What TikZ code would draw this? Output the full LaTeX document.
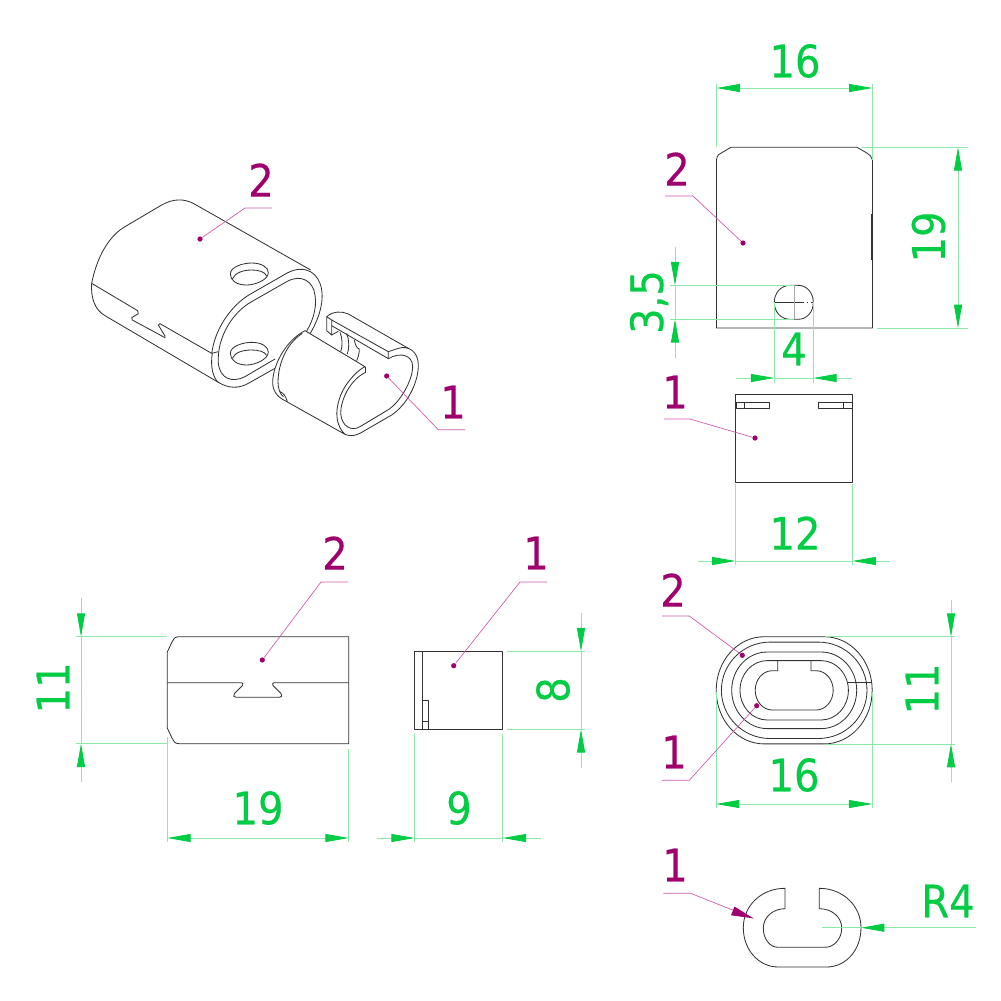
\documentclass[tikz,border=0pt]{standalone}
\usepackage{fontspec}
\setmainfont{DejaVu Sans Condensed}
\newfontfamily\markfont[FakeBold=0.35]{DejaVu Sans Condensed}
\usetikzlibrary{arrows.meta}
\definecolor{dimgreen}{RGB}{0,204,68}
\definecolor{extgreen}{RGB}{140,234,168}
\definecolor{labelmag}{RGB}{160,0,110}
\definecolor{leadmag}{RGB}{205,90,170}
\definecolor{partline}{RGB}{50,50,50}
\tikzset{
  part/.style={draw=partline,line width=0.62pt,line join=round},
  extline/.style={draw=extgreen,line width=0.6pt},
  dimline/.style={draw=extgreen,line width=0.6pt,
     >={Triangle[length=17.5pt,width=6pt,color=dimgreen,fill=dimgreen]}},
  dimtext/.style={text=dimgreen,font=\markfont\fontsize{33.5}{33.5}\selectfont,inner sep=0pt},
  labeltext/.style={text=labelmag,font=\markfont\fontsize{33.5}{33.5}\selectfont,inner sep=0pt},
  leader/.style={draw=leadmag,line width=0.5pt},
  dotmark/.style={circle,fill=labelmag,inner sep=0pt,minimum size=3.9pt},
}
\newcommand\stadium[5]{%
  \pgfmathsetmacro\sxl{#1-#3}\pgfmathsetmacro\sxr{#1+#3}%
  \pgfmathsetmacro\syt{#2-#5}\pgfmathsetmacro\syb{#2+#5}%
  \pgfmathsetmacro\kx{.5523*#4}\pgfmathsetmacro\ky{.5523*#5}%
  \pgfmathsetmacro\xrr{#1+#3+#4}\pgfmathsetmacro\xll{#1-#3-#4}%
  \draw[part] (\sxl,\syt) -- (\sxr,\syt)
    .. controls (\sxr+\kx,\syt) and (\xrr,#2-\ky) .. (\xrr,#2)
    .. controls (\xrr,#2+\ky) and (\sxr+\kx,\syb) .. (\sxr,\syb)
    -- (\sxl,\syb)
    .. controls (\sxl-\kx,\syb) and (\xll,#2+\ky) .. (\xll,#2)
    .. controls (\xll,#2-\ky) and (\sxl-\kx,\syt) .. cycle;}
\begin{document}
\begin{tikzpicture}[x=0.75pt,y=-0.75pt]
\useasboundingbox[fill=white] (0,0) rectangle (1001,1001);

% ---------- isometric view (coordinates of a 3x crop) ----------
\begin{scope}[x=0.25pt,y=-0.25pt,shift={(52.5pt,-127.5pt)}]
 % body 2
 \draw[part] (65,340) .. controls (85,240) and (130,190) .. (165,170)
   -- (275,105) .. controls (310,85) and (345,85) .. (375,103) -- (722,300);
 \draw[part] (65,340) .. controls (62,385) and (75,420) .. (105,437)
   -- (445,637) .. controls (475,655) and (505,657) .. (535,640) -- (620,592);
 \draw[part] (65,340) -- (203,422) -- (205,431) -- (185,443) -- (187,450)
   -- (285,503) -- (285,498) -- (265,465) -- (270,461) -- (425,550) -- (445,545);
 % end face
 \draw[part] (425,552) .. controls (435,470) and (490,400) .. (545,370)
   -- (650,310) .. controls (695,285) and (735,300) .. (750,340)
   .. controls (768,390) and (745,450) .. (718,495);
 \draw[part] (427,550) .. controls (420,590) and (430,625) .. (445,637);
 \draw[part] (615,567) -- (525,620) .. controls (485,640) and (450,625) .. (445,580)
   .. controls (440,500) and (490,425) .. (545,395)
   -- (650,335) .. controls (695,310) and (730,335) .. (735,375)
   .. controls (742,420) and (725,460) .. (703,495);
 % holes
 \draw[part] (481,312) .. controls (481,290) and (520,279) .. (545,279)
   .. controls (575,279) and (595,292) .. (595,308)
   .. controls (595,330) and (555,345) .. (530,345)
   .. controls (500,345) and (481,332) .. cycle;
 \draw[part] (487,327) .. controls (495,308) and (520,300) .. (545,300)
   .. controls (565,300) and (585,305) .. (590,318);
 \draw[part] (481,550) .. controls (481,528) and (520,517) .. (545,517)
   .. controls (575,517) and (595,530) .. (595,546)
   .. controls (595,568) and (555,585) .. (530,585)
   .. controls (500,585) and (481,570) .. cycle;
 \draw[part] (487,565) .. controls (495,546) and (520,540) .. (545,540)
   .. controls (565,540) and (585,545) .. (590,556);
 % tab of part 1
 \fill[white] (770,440) -- (1020,530) -- (955,580) -- (770,490) -- cycle;
 \draw[part] (770,440) .. controls (790,423) and (815,423) .. (835,432) -- (1015,535);
 \draw[part] (770,440) -- (770,482) -- (785,495) -- (785,450) -- cycle;
 \draw[part] (785,450) -- (955,545) -- (955,566) -- (785,467);
 \draw[part] (785,495) -- (805,484);
 \draw[part] (810,487) .. controls (818,505) and (818,530) .. (812,545);
 \draw[part] (830,490) .. controls (838,510) and (838,535) .. (832,552);
 \draw[part] (853,510) .. controls (856,525) and (860,535) .. (868,537)
   .. controls (868,550) and (865,560) .. (860,572);
 % part 1 sleeve
 \fill[white] (705,482) -- (885,590) -- (885,608)
   .. controls (840,630) and (812,690) .. (805,730) -- (825,793)
   -- (645,690) .. controls (600,650) and (605,580) .. (650,520) -- cycle;
 \draw[part,fill=white] (705,482) .. controls (650,510) and (610,580) .. (608,635)
   .. controls (607,660) and (620,680) .. (645,692) -- (825,793)
   .. controls (790,760) and (795,700) .. (825,650)
   .. controls (845,620) and (865,600) .. (885,590) -- cycle;
 \draw[part] (697,490) .. controls (650,520) and (625,580) .. (624,635)
   .. controls (624,655) and (630,672) .. (640,680);
 \draw[part] (630,665) .. controls (640,668) and (648,680) .. (652,695);
 \draw[part] (885,590) -- (885,608);
 % part 1 front ring
 \draw[part] (825,793) .. controls (840,800) and (855,797) .. (870,790)
   -- (965,735) .. controls (1010,705) and (1045,640) .. (1045,585)
   .. controls (1045,545) and (1015,525) .. (985,535) -- (955,545);
 \draw[part] (885,608) .. controls (840,630) and (812,690) .. (812,730)
   .. controls (815,770) and (845,785) .. (870,770)
   -- (950,722) .. controls (990,700) and (1028,630) .. (1028,590)
   .. controls (1028,555) and (990,545) .. (955,566);
\end{scope}
% iso labels
\node[labeltext] (isotwo) at (261,180) {2};
\coordinate (isotwoe) at (272,208);
\coordinate (isotwok) at (245,208);
\node[dotmark] (isotwod) at (200,239) {};
\draw[leader] (isotwoe) -- (isotwok) -- (isotwod);
\node[labeltext] (isoone) at (453,402) {1};
\coordinate (isoonee) at (465,429.7);
\coordinate (isoonek) at (438.3,429.7);
\node[dotmark] (isooned) at (386.7,376) {};
\draw[leader] (isoonee) -- (isoonek) -- (isooned);

% ---------- top right view, part 2 ----------
\draw[part] (716.5,328) -- (716.5,160) .. controls (717,155) and (719,154) .. (722,152.5)
  -- (731,147.3) -- (857,147.3) -- (866,152.5) .. controls (870,155) and (872,157) .. (872.5,160)
  -- (872.5,328) -- cycle;
\draw[part] (871.5,214) -- (871.5,260);
\draw[part] (790,285.3) -- (798,285.3) .. controls (807,285.3) and (813.3,293) .. (813.3,302.3)
  .. controls (813.3,312) and (807,319.3) .. (798,319.3) -- (790,319.3)
  .. controls (781,319.3) and (774.3,312) .. (774.3,302.3)
  .. controls (774.3,293) and (781,285.3) .. cycle;
\draw[part] (774.3,302.3) -- (800,302.3);
\draw[part,dash pattern=on 3pt off 2pt on 1pt off 2pt] (800,302.3) -- (813.3,302.3);
\draw[gray!70,line width=0.5pt] (794.5,285.3) -- (794.5,319.3);
% dims 16 top
\draw[extline] (716.5,147) -- (716.5,84);
\draw[extline] (872.5,160) -- (872.5,84);
\draw[dimline,<->] (716.5,88) -- (872.5,88);
\node[dimtext] (dsixa) at (795,61) {16};
% dim 19 right
\draw[extline] (862,147.3) -- (968,147.3);
\draw[extline] (877,328) -- (968,328);
\draw[dimline,<->] (958,147.3) -- (958,328);
\node[dimtext,rotate=90] (dnine) at (928.5,237) {19};
% dim 3,5
\draw[extline] (670,285.3) -- (794,285.3);
\draw[extline] (670,319.3) -- (794,319.3);
\draw[dimline,->] (675,247) -- (675,285.3);
\draw[dimline,->] (675,358) -- (675,319.3);
\draw[extline] (675,285.3) -- (675,319.3);
\node[dimtext,rotate=90,anchor=base] (dthree) at (663,302) {3,5};
% dim 4
\draw[extline] (774.3,302.3) -- (774.3,383);
\draw[extline] (813.3,302.3) -- (813.3,383);
\draw[dimline,->] (736,378) -- (774.3,378);
\draw[dimline,->] (852,378) -- (813.3,378);
\draw[extline] (774.3,378) -- (813.3,378);
\node[dimtext] (dfour) at (794,349) {4};
% label 2
\node[labeltext] (topwo) at (677,169) {2};
\coordinate (topwoe) at (665,196);
\coordinate (topwok) at (693,196);
\node[dotmark] (topwod) at (743,243) {};
\draw[leader] (topwoe) -- (topwok) -- (topwod);

% ---------- view of part 1 ----------
\draw[part] (735.5,394.7) rectangle (852.5,482.7);
\draw[part] (736,402.3) rectangle (769.5,408.3);
\draw[part] (744.7,402.3) -- (744.7,408.3);
\draw[part] (818.7,402.3) rectangle (852,408.3);
\draw[part] (843.3,402.3) -- (843.3,408.3);
\draw[extline] (735.5,484) -- (735.5,565);
\draw[extline] (852.5,484) -- (852.5,565);
\draw[dimline,->] (698,561) -- (735.5,561);
\draw[dimline,->] (890,561) -- (852.5,561);
\draw[extline] (735.5,561) -- (852.5,561);
\node[dimtext] (dtwelve) at (795,533) {12};
\node[labeltext] (vone) at (675,392) {1};
\coordinate (vonee) at (664,419);
\coordinate (vonek) at (690,419);
\node[dotmark] (voned) at (755,438) {};
\draw[leader] (vonee) -- (vonek) -- (voned);

% ---------- bottom left view ----------
\draw[part] (179,636.7) -- (348.7,636.7) -- (348.7,743.7) -- (179,743.7)
  .. controls (175,743.7) and (173,741) .. (172,738) -- (167.3,728)
  -- (167.3,652) -- (172,642) .. controls (173,639) and (175,636.7) .. cycle;
\draw[part] (167.3,682.7) -- (241.5,682.7) .. controls (243,682.7) and (243.5,684.5) .. (242.5,685.5)
  -- (234.5,693.5) .. controls (233,695.5) and (233.5,697.3) .. (236,697.3)
  -- (279.5,697.3) .. controls (282,697.3) and (282.5,695.5) .. (281,693.5)
  -- (273,685.5) .. controls (272,684.5) and (272.5,682.7) .. (274,682.7) -- (348.7,682.7);
\draw[extline] (167,636.7) -- (76,636.7);
\draw[extline] (167,743.7) -- (76,743.7);
\draw[dimline,->] (81,598) -- (81,636.7);
\draw[dimline,->] (81,782) -- (81,743.7);
\draw[extline] (81,636.7) -- (81,743.7);
\node[dimtext,rotate=90] (delevena) at (53,688) {11};
\draw[extline] (167.3,737) -- (167.3,842);
\draw[extline] (348.7,749) -- (348.7,842);
\draw[dimline,<->] (167.3,838) -- (348.7,838);
\node[dimtext] (dnineteen) at (258,808) {19};
\node[labeltext] (bltwo) at (335,553) {2};
\coordinate (bltwoe) at (348,582);
\coordinate (bltwok) at (321,582);
\node[dotmark] (bltwod) at (262.3,660) {};
\draw[leader] (bltwoe) -- (bltwok) -- (bltwod);

% ---------- bottom middle view ----------
\draw[part] (414.7,651.3) rectangle (502.7,729.3);
\draw[part] (422.3,651.3) -- (422.3,729.3);
\draw[part] (422.3,700) rectangle (428.3,729.3);
\draw[part] (422.3,721) -- (428.3,721);
\draw[extline] (507,651.3) -- (585,651.3);
\draw[extline] (507,729.3) -- (585,729.3);
\draw[dimline,->] (581,613) -- (581,651.3);
\draw[dimline,->] (581,768) -- (581,729.3);
\draw[extline] (581,651.3) -- (581,729.3);
\node[dimtext,rotate=90] (deight) at (553,690) {8};
\draw[extline] (414.7,734) -- (414.7,842);
\draw[extline] (502.7,734) -- (502.7,842);
\draw[dimline,->] (377,838) -- (414.7,838);
\draw[dimline,->] (541,838) -- (502.7,838);
\draw[extline] (414.7,838) -- (502.7,838);
\node[dimtext] (dninea) at (459,808) {9};
\node[labeltext] (bmone) at (536,553) {1};
\coordinate (bmonee) at (547,582);
\coordinate (bmonek) at (520,582);
\node[dotmark] (bmoned) at (453.7,665.7) {};
\draw[leader] (bmonee) -- (bmonek) -- (bmoned);

% ---------- oval view ----------
\stadium{794.2}{690.3}{30}{48}{53.6}
\stadium{794.2}{690.3}{24.2}{48.6}{48.2}
\stadium{794.2}{690.3}{27}{35.5}{38.3}
\stadium{794.2}{690.3}{27}{27.2}{29.7}
\draw[part] (777.7,660.7) -- (777.7,670.7) -- (772.2,670.7)
  .. controls (762.8,670.7) and (755.2,679.5) .. (755.2,690.3)
  .. controls (755.2,701) and (762.8,710) .. (772.2,710) -- (816.2,710)
  .. controls (825.6,710) and (833.2,701) .. (833.2,690.3)
  .. controls (833.2,679.5) and (825.6,670.7) .. (816.2,670.7)
  -- (811,670.7) -- (811,660.7);
\draw[part] (847.3,682.7) -- (871.7,682.7);
\draw[extline] (825,636.7) -- (955,636.7);
\draw[extline] (825,744) -- (955,744);
\draw[dimline,->] (951,600) -- (951,636.7);
\draw[dimline,->] (951,782) -- (951,744);
\draw[extline] (951,636.7) -- (951,744);
\node[dimtext,rotate=90] (delevenb) at (922,689) {11};
\draw[extline] (716,692) -- (716,808);
\draw[extline] (872.3,692) -- (872.3,808);
\draw[dimline,<->] (716,804) -- (872.3,804);
\node[dimtext] (dsixb) at (794,775) {16};
\node[labeltext] (ovtwo) at (673,590) {2};
\coordinate (ovtwoe) at (662,616);
\coordinate (ovtwok) at (689.3,616);
\node[dotmark] (ovtwod) at (742.3,655.3) {};
\draw[leader] (ovtwoe) -- (ovtwok) -- (ovtwod);
\node[labeltext] (ovone) at (674,752) {1};
\coordinate (ovonee) at (662,780.3);
\coordinate (ovonek) at (689.3,780.3);
\node[dotmark] (ovoned) at (756.7,705.7) {};
\draw[leader] (ovonee) -- (ovonek) -- (ovoned);

% ---------- C section ----------
\draw[part] (785,888.3) .. controls (761,888.3) and (743.3,906) .. (743.3,927.7)
  .. controls (743.3,950) and (759,967) .. (778.3,967) -- (826.7,967)
  .. controls (846,967) and (861,950) .. (861,927.7)
  .. controls (861,906) and (843,888.3) .. (819.3,888.3)
  -- (819.3,908.7) .. controls (832,908.7) and (841.7,917) .. (841.7,928)
  .. controls (841.7,939) and (834,947.3) .. (825,947.3) -- (778,947.3)
  .. controls (770,947.3) and (763.3,939) .. (763.3,928)
  .. controls (763.3,917) and (773,908.7) .. (785,908.7) -- cycle;
\coordinate (rstart) at (822,927.7);
\coordinate (rend) at (976,927.7);
\coordinate (rtip) at (861,927.7);
\draw[extline] (rstart) -- (rtip);
\draw[dimline,->] (rend) -- (rtip);
\node[dimtext] (drfour) at (948,901) {R4};
\node[labeltext] (cone) at (675,865) {1};
\coordinate (conee) at (663.3,893.3);
\coordinate (conek) at (690.7,893.3);
\coordinate (conet) at (753.3,918.3);
\draw[leader] (conee) -- (conek) -- (conet);
\draw[draw=none,fill=labelmag] (conet) -- (731,915.3) -- (734.5,906.5) -- cycle;
\end{tikzpicture}
\end{document}
